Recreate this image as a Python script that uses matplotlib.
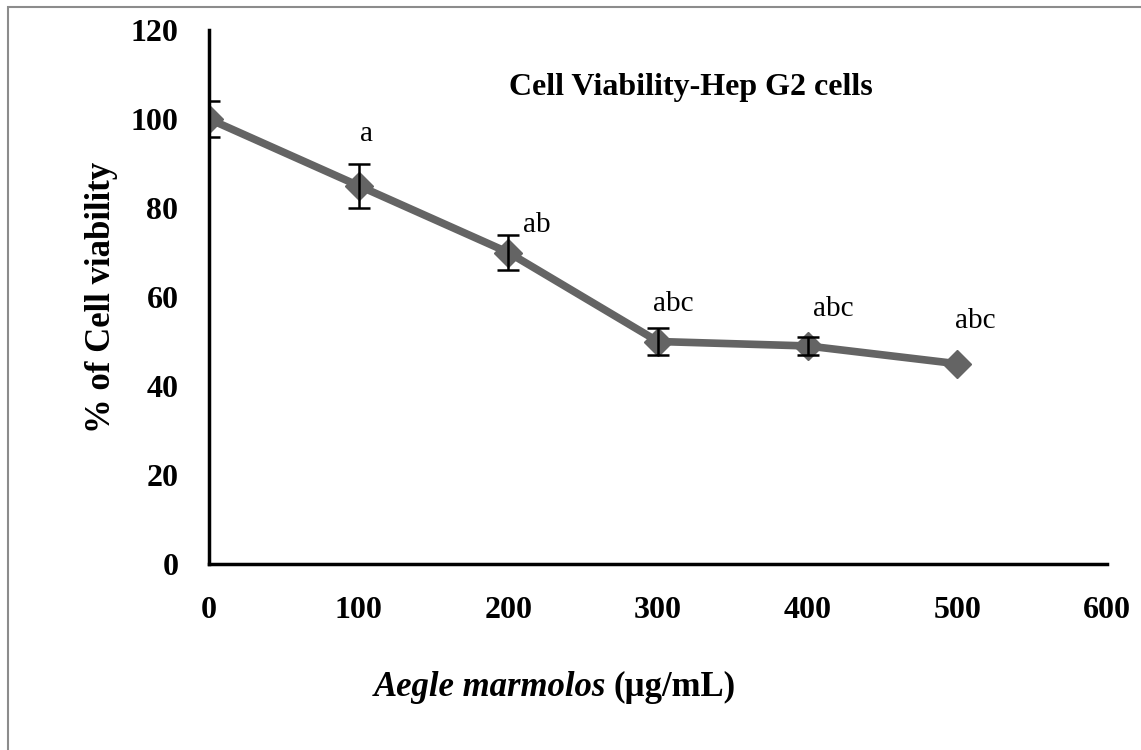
import matplotlib.pyplot as plt
from matplotlib.patches import Rectangle

plt.rcParams['font.family'] = ['Liberation Serif', 'DejaVu Serif']

dose = [0, 100, 200, 300, 400, 500]
viability = [100, 85, 70, 50, 49, 45]
err = [4, 5, 4, 3, 2, 0]
letters = ['', 'a', 'ab', 'abc', 'abc', 'abc']
x_ticks = [0, 100, 200, 300, 400, 500, 600]
y_ticks = [0, 20, 40, 60, 80, 100, 120]

fig = plt.figure(figsize=(11.41, 7.5), dpi=100)
ax = fig.add_axes([0.1832, 0.248, 0.787, 0.712])

# outer frame of the original figure
fig.patches.append(Rectangle((8 / 1141, -0.01), 1.2, 1 - 7 / 750 + 0.01,
                             transform=fig.transFigure, fill=False,
                             edgecolor='#8c8c8c', linewidth=1.5))

ax.plot(dose, viability, color='#646464', linewidth=5.5, marker='D',
        markersize=14, zorder=2)

# only points that have an error bar
ex = [d for d, e in zip(dose, err) if e > 0]
ey = [v for v, e in zip(viability, err) if e > 0]
ee = [e for e in err if e > 0]
ax.errorbar(ex, ey, yerr=ee, fmt='none', ecolor='black',
            elinewidth=1.8, capsize=8, capthick=1.8, zorder=3)

offsets = {1: (5, 11.6), 2: (19, 6.2), 3: (10, 8.5), 4: (17, 8.3), 5: (12, 9.5)}
for i, lab in enumerate(letters):
    if not lab:
        continue
    dx, dy = offsets[i]
    ax.text(dose[i] + dx, viability[i] + dy, lab, ha='center', va='center',
            fontsize=21)

ax.text(322, 107, 'Cell Viability-Hep G2 cells', fontsize=23,
        fontweight='bold', ha='center', va='center')

ax.set_xlim(0, 600)
ax.set_ylim(0, 120)
ax.set_xticks(x_ticks)
ax.set_yticks(y_ticks)
ax.tick_params(length=0, labelsize=23)
ax.tick_params(axis='x', pad=23)
ax.tick_params(axis='y', pad=22)
for lbl in ax.get_xticklabels() + ax.get_yticklabels():
    lbl.set_fontweight('bold')

for s in ['top', 'right']:
    ax.spines[s].set_visible(False)
for s in ['left', 'bottom']:
    ax.spines[s].set_linewidth(2.5)

ax.set_ylabel('% of Cell viability', fontsize=25, fontweight='bold')
ax.yaxis.set_label_coords(-0.101, 0.5)
fig.text(0.531, 0.0827, 'Aegle marmolos', fontsize=25, fontstyle='italic',
         fontweight='bold', ha='right', va='center')
fig.text(0.538, 0.0827, '(µg/mL)', fontsize=25, fontweight='bold',
         ha='left', va='center')

fig.savefig('out.png', dpi=100)
